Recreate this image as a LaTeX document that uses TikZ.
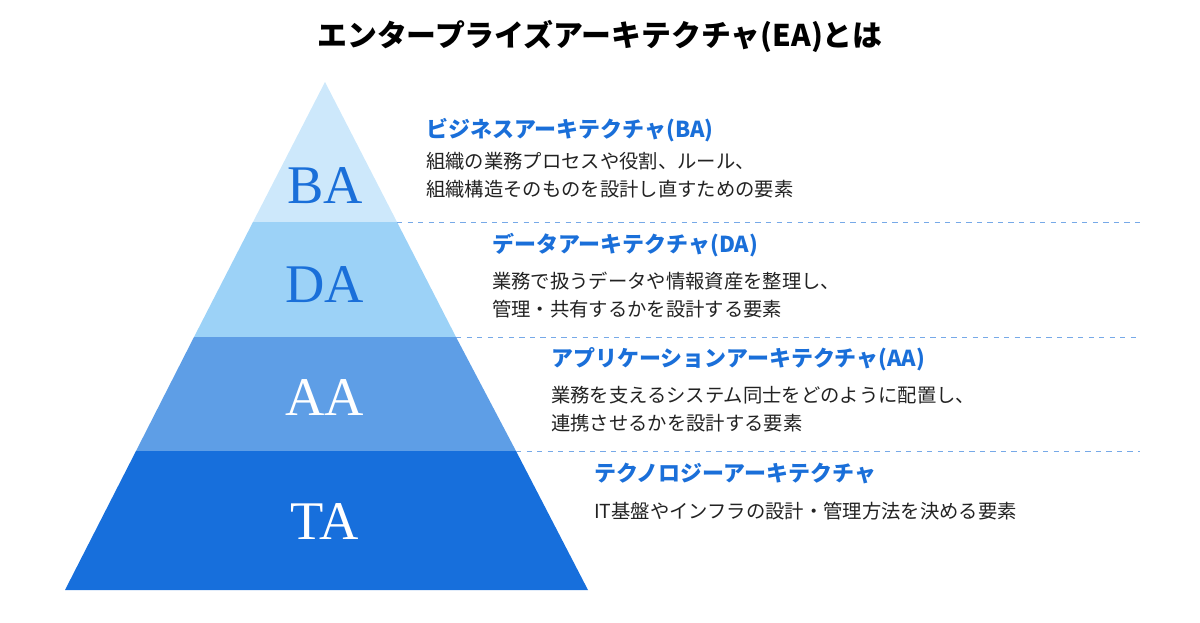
\documentclass[tikz,border=0pt]{standalone}
\usepackage{fontspec}
\setmainfont{Liberation Serif}
\newfontfamily\jpfont{Noto Sans CJK JP}
\usetikzlibrary{positioning}
\definecolor{eablue}{HTML}{1A6FD9}
\definecolor{baband}{HTML}{CDE8FB}
\definecolor{daband}{HTML}{9CD2F7}
\definecolor{aaband}{HTML}{5E9EE6}
\definecolor{taband}{HTML}{176FDC}
\definecolor{bodytext}{HTML}{222222}
\tikzset{
  bandlabel/.style={font=\fontsize{31}{31}\selectfont},
  heading/.style={anchor=west,text=eablue,font=\jpfont\fontsize{12.5}{14}\selectfont\bfseries},
  bodynote/.style={anchor=north west,text=bodytext,align=left,font=\jpfont\fontsize{11}{16}\selectfont},
  sepline/.style={dashed,draw=eablue!60,thin}
}
\begin{document}
\begin{tikzpicture}[x=0.02cm,y=-0.02cm]
\useasboundingbox (0,0) rectangle (1200,622);

%Title
\node (title) at (600,36) {\jpfont\fontsize{17}{20}\selectfont\bfseries エンタープライズアーキテクチャ(EA)とは};

%Bands
\fill[baband] (325,82) -- (397,222) -- (253,222) -- cycle;
\fill[daband] (253,222) -- (397,222) -- (456,337) -- (194,337) -- cycle;
\fill[aaband] (194,337) -- (456,337) -- (516,451) -- (136,451) -- cycle;
\fill[taband] (136,451) -- (516,451) -- (588,590) -- (65,590) -- cycle;

\node[bandlabel,text=eablue] (ba) at (325,186) {BA};
\node[bandlabel,text=eablue] (da) at (325,285) {DA};
\node[bandlabel,text=white] (aa) at (325,398) {AA};
\node[bandlabel,text=white] (ta) at (325,522) {TA};

%Separators
\coordinate (s1) at (397,222); \coordinate (e1) at (1140,222);
\coordinate (s2) at (456,337); \coordinate (e2) at (1140,337);
\coordinate (s3) at (516,451); \coordinate (e3) at (1140,451);
\draw[sepline] (s1) -- (e1);
\draw[sepline] (s2) -- (e2);
\draw[sepline] (s3) -- (e3);

%Texts
\node[heading] (hba) at (420,130) {ビジネスアーキテクチャ(BA)};
\node[bodynote] (tba) at (420,146) {組織の業務プロセスや役割、ルール、\\組織構造そのものを設計し直すための要素};
\node[heading] (hda) at (486,245) {データアーキテクチャ(DA)};
\node[bodynote] (tda) at (486,266) {業務で扱うデータや情報資産を整理し、\\管理・共有するかを設計する要素};
\node[heading] (haa) at (545,359) {アプリケーションアーキテクチャ(AA)};
\node[bodynote] (taa) at (545,380) {業務を支えるシステム同士をどのように配置し、\\連携させるかを設計する要素};
\node[heading] (hta) at (588,473) {テクノロジーアーキテクチャ};
\node[bodynote] (tta) at (588,496) {IT基盤やインフラの設計・管理方法を決める要素};
\end{tikzpicture}
\end{document}
